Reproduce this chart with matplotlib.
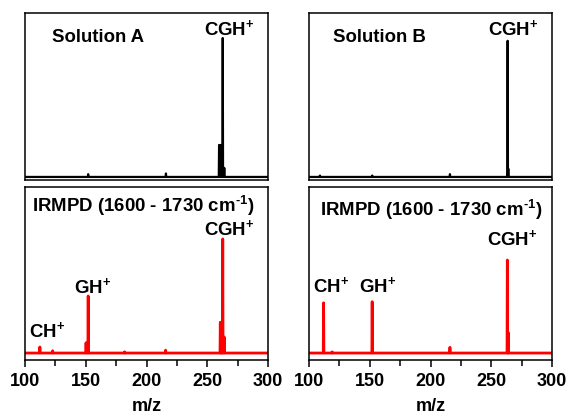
import numpy as np
import matplotlib
matplotlib.use('Agg')
import matplotlib.pyplot as plt
from matplotlib.ticker import MultipleLocator

plt.rcParams['font.family'] = ['Liberation Sans', 'DejaVu Sans']
plt.rcParams['font.weight'] = 'bold'
plt.rcParams['mathtext.fontset'] = 'custom'
plt.rcParams['mathtext.rm'] = 'Liberation Sans:bold'
plt.rcParams['mathtext.it'] = 'Liberation Sans:bold'
plt.rcParams['mathtext.bf'] = 'Liberation Sans:bold'

# peak lists (m/z, relative intensity)
sol_a_mz = [152, 216, 259.75, 260.5, 261.25, 262, 262.75, 264]
sol_a_int = [0.02, 0.025, 0.23, 0.23, 0.23, 0.23, 1.0, 0.065]

sol_b_mz = [109, 152, 216, 263.5, 264]
sol_b_int = [0.01, 0.01, 0.02, 0.98, 0.06]

irmpd_a_mz = [112.25, 122.75, 150.25, 152, 182, 215.75, 260.75, 261.5, 262.75, 264]
irmpd_a_int = [0.053, 0.02, 0.09, 0.50, 0.01, 0.025, 0.27, 0.27, 1.0, 0.14]

irmpd_b_mz = [112, 119, 152, 216, 263.25, 264]
irmpd_b_int = [0.44, 0.01, 0.45, 0.05, 0.815, 0.18]

mz_grid = np.arange(100, 300.001, 0.25)


def spectrum(mz, inten):
    y = np.zeros_like(mz_grid)
    for m, i in zip(mz, inten):
        k = int(round((m - 100) / 0.25))
        y[k] = max(y[k], i)
    return y


fig = plt.figure(figsize=(5.68, 4.16), dpi=100)
ax_ta = fig.add_axes([25/568, 236/416, 243/568, 167/416])
ax_tb = fig.add_axes([309/568, 236/416, 243/568, 167/416])
ax_ba = fig.add_axes([25/568, 56/416, 243/568, 173/416])
ax_bb = fig.add_axes([309/568, 56/416, 243/568, 173/416])

ax_ta.plot(mz_grid, spectrum(sol_a_mz, sol_a_int), color='black', lw=1.6)
ax_tb.plot(mz_grid, spectrum(sol_b_mz, sol_b_int), color='black', lw=1.6)
ax_ba.plot(mz_grid, spectrum(irmpd_a_mz, irmpd_a_int), color='#ff0000', lw=2.0)
ax_bb.plot(mz_grid, spectrum(irmpd_b_mz, irmpd_b_int), color='#ff0000', lw=2.0)

for ax in (ax_ta, ax_tb):
    ax.set_ylim(-0.022, 1.18)
    ax.set_xticks([])
for ax in (ax_ba, ax_bb):
    ax.set_ylim(-0.061, 1.455)
    ax.xaxis.set_major_locator(MultipleLocator(50))
    ax.xaxis.set_minor_locator(MultipleLocator(25))
    ax.tick_params(axis='x', which='both', direction='out', width=1.1,
                   labelsize=13, pad=4)
    ax.tick_params(axis='x', which='major', length=5)
    ax.tick_params(axis='x', which='minor', length=4)
    ax.set_xlabel('m/z', fontsize=13, fontweight='bold', labelpad=6)
for ax in (ax_ta, ax_tb, ax_ba, ax_bb):
    ax.set_xlim(100, 300)
    ax.set_yticks([])
    for s in ax.spines.values():
        s.set_linewidth(1.1)

fs = 13.4
plus = r'CGH$^{+}$'
ax_ta.text(0.111, 0.826, 'Solution A', transform=ax_ta.transAxes, fontsize=fs)
ax_ta.text(0.737, 0.868, plus, transform=ax_ta.transAxes, fontsize=fs)
ax_tb.text(0.099, 0.826, 'Solution B', transform=ax_tb.transAxes, fontsize=fs)
ax_tb.text(0.737, 0.868, plus, transform=ax_tb.transAxes, fontsize=fs)

irmpd = r'IRMPD (1600 - 1730 cm$^{\text{-1}}$)'
ax_ba.text(0.029, 0.855, irmpd, transform=ax_ba.transAxes, fontsize=fs)
ax_ba.text(0.737, 0.723, plus, transform=ax_ba.transAxes, fontsize=fs)
ax_ba.text(0.202, 0.387, r'GH$^{+}$', transform=ax_ba.transAxes, fontsize=fs)
ax_ba.text(0.016, 0.133, r'CH$^{+}$', transform=ax_ba.transAxes, fontsize=fs)

ax_bb.text(0.045, 0.832, irmpd, transform=ax_bb.transAxes, fontsize=fs)
ax_bb.text(0.733, 0.665, plus, transform=ax_bb.transAxes, fontsize=fs)
ax_bb.text(0.016, 0.393, r'CH$^{+}$', transform=ax_bb.transAxes, fontsize=fs)
ax_bb.text(0.206, 0.393, r'GH$^{+}$', transform=ax_bb.transAxes, fontsize=fs)

fig.savefig('out.png', dpi=100)
